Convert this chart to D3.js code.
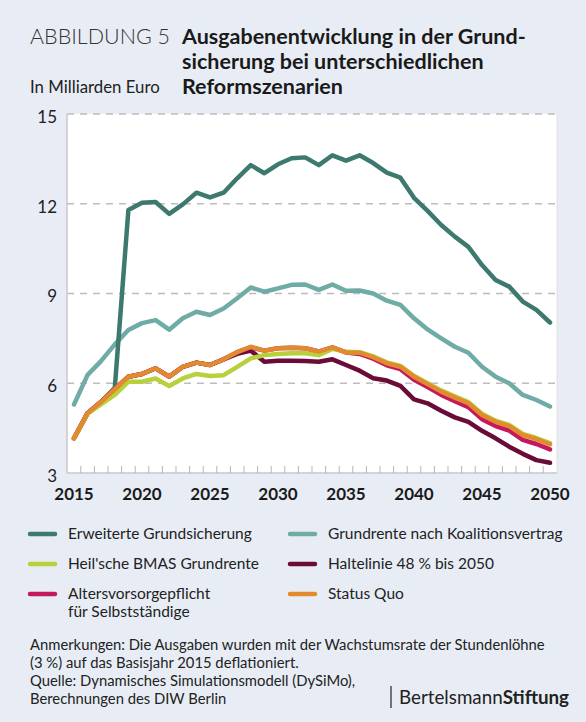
<!DOCTYPE html>
<html>
<head>
<meta charset="utf-8">
<script src="https://cdn.jsdelivr.net/npm/d3@7"></script>
<style>
  html, body { margin: 0; padding: 0; background: #e8edf5; }
  svg { display: block; font-family: Lato, "Open Sans", sans-serif; }
</style>
</head>
<body>
<svg id="chart" width="586" height="722"></svg>
<script>
// Ausgabenentwicklung Grundsicherung, Mrd. Euro, 2015–2050
var years = d3.range(2015, 2051);
var yTicks = [3, 6, 9, 12, 15];
var xTickLabels = [2015, 2020, 2025, 2030, 2035, 2040, 2045, 2050];

var erweitert = [4.16, 5.0, 5.38, 5.85, 11.79, 12.03, 12.06, 11.66, 11.98, 12.37, 12.21, 12.37, 12.85, 13.29, 13.02, 13.32, 13.52, 13.55, 13.29, 13.62,
  13.44, 13.62, 13.36, 13.04, 12.87, 12.2, 11.76, 11.29, 10.9, 10.56, 9.95, 9.45, 9.23, 8.73, 8.45, 8.03];
var koalition = [5.29, 6.28, 6.75, 7.3, 7.78, 8.01, 8.11, 7.79, 8.17, 8.39, 8.28, 8.5, 8.84, 9.2, 9.06, 9.17, 9.29, 9.3, 9.12, 9.3,
  9.09, 9.1, 9.0, 8.76, 8.62, 8.17, 7.8, 7.5, 7.22, 7.02, 6.55, 6.22, 6.0, 5.61, 5.44, 5.22];
var heil = [4.16, 4.98, 5.3, 5.61, 6.05, 6.05, 6.16, 5.91, 6.16, 6.31, 6.24, 6.27, 6.55, 6.83, 6.94, 6.98, 7.0, 7.0, 6.94, 7.15,
  7.05, 7.04, 6.9, 6.7, 6.58, 6.25, 6.0, 5.76, 5.56, 5.37, 4.98, 4.75, 4.61, 4.31, 4.17, 4.0];
var haltelinie = [4.16, 5.0, 5.38, 5.8, 6.22, 6.31, 6.5, 6.22, 6.55, 6.69, 6.61, 6.8, 6.98, 7.09, 6.72, 6.75, 6.75, 6.74, 6.72, 6.8,
  6.61, 6.42, 6.17, 6.09, 5.91, 5.46, 5.33, 5.08, 4.86, 4.71, 4.41, 4.16, 3.88, 3.64, 3.43, 3.34];
var alters = [4.16, 5.0, 5.38, 5.8, 6.22, 6.31, 6.5, 6.22, 6.55, 6.69, 6.61, 6.8, 7.04, 7.2, 7.09, 7.17, 7.19, 7.17, 7.06, 7.2,
  7.03, 6.98, 6.82, 6.6, 6.47, 6.12, 5.87, 5.61, 5.4, 5.2, 4.8, 4.57, 4.42, 4.11, 3.97, 3.79];
var statusQuo = [4.16, 5.0, 5.38, 5.8, 6.22, 6.31, 6.5, 6.22, 6.55, 6.69, 6.61, 6.8, 7.04, 7.22, 7.09, 7.17, 7.19, 7.17, 7.06, 7.2,
  7.03, 7.02, 6.87, 6.67, 6.55, 6.22, 5.97, 5.72, 5.52, 5.33, 4.94, 4.71, 4.57, 4.27, 4.13, 3.96];

// drawing order = bottom to top
var series = [
  { name: "Grundrente nach Koalitionsvertrag", values: koalition, color: "#6eaca5" },
  { name: "Erweiterte Grundsicherung", values: erweitert, color: "#3e796f" },
  { name: "Haltelinie 48 % bis 2050", values: haltelinie, color: "#6a0c37" },
  { name: "Altersvorsorgepflicht", values: alters, color: "#c4195a" },
  { name: "Heil'sche BMAS Grundrente", values: heil, color: "#b9d03d" },
  { name: "Status Quo", values: statusQuo, color: "#e28a30" }
];

var legendItems = [
  { lines: ["Erweiterte Grundsicherung"], color: "#3e796f", col: 0, row: 0 },
  { lines: ["Grundrente nach Koalitionsvertrag"], color: "#6eaca5", col: 1, row: 0 },
  { lines: ["Heil'sche BMAS Grundrente"], color: "#b9d03d", col: 0, row: 1 },
  { lines: ["Haltelinie 48 % bis 2050"], color: "#6a0c37", col: 1, row: 1 },
  { lines: ["Altersvorsorgepflicht", "für Selbstständige"], color: "#c4195a", col: 0, row: 2 },
  { lines: ["Status Quo"], color: "#e28a30", col: 1, row: 2 }
];

var svg = d3.select("#chart");
var plot = { left: 67, right: 557, top: 114, bottom: 473 };

var x = d3.scaleLinear().domain([2015, 2050]).range([74, 550]);
var y = d3.scaleLinear().domain([3, 15]).range([plot.bottom, plot.top]);

// title block
var head = svg.append("g").attr("fill", "#1a1a1a");
head.append("text").attr("x", 30).attr("y", 44).attr("font-size", 21.5).attr("font-weight", 300)
  .attr("fill", "#333").text("ABBILDUNG 5");
["Ausgabenentwicklung in der Grund-", "sicherung bei unterschiedlichen", "Reformszenarien"].forEach(function (t, i) {
  head.append("text").attr("x", 182).attr("y", 44 + i * 25).attr("font-size", 21.5).attr("font-weight", 700).text(t);
});
head.append("text").attr("x", 30).attr("y", 93).attr("font-size", 16.8).attr("fill", "#222").text("In Milliarden Euro");

// plot background
svg.append("rect").attr("x", plot.left).attr("y", plot.top)
  .attr("width", plot.right - plot.left).attr("height", plot.bottom - plot.top).attr("fill", "#fff");

// gridlines
svg.append("g").selectAll("line").data(yTicks.filter(function (v) { return v > 3; })).join("line")
  .attr("x1", plot.left).attr("x2", plot.right)
  .attr("y1", function (d) { return y(d); }).attr("y2", function (d) { return y(d); })
  .attr("stroke", "#bdbdbd").attr("stroke-width", 1.3).attr("stroke-dasharray", "7,6");

// axes frame
svg.append("line").attr("x1", plot.left).attr("x2", plot.left).attr("y1", plot.top).attr("y2", plot.bottom)
  .attr("stroke", "#c9c9c9").attr("stroke-width", 1.5);
svg.append("line").attr("x1", plot.right).attr("x2", plot.right).attr("y1", plot.top).attr("y2", plot.bottom)
  .attr("stroke", "#e2e2e2").attr("stroke-width", 1);
svg.append("line").attr("x1", plot.left).attr("x2", plot.right).attr("y1", plot.bottom).attr("y2", plot.bottom)
  .attr("stroke", "#c9c9c9").attr("stroke-width", 1.5);

// small year ticks between the years
svg.append("g").selectAll("line").data(years.slice(0, -1)).join("line")
  .attr("x1", function (d) { return x(d + 0.5); }).attr("x2", function (d) { return x(d + 0.5); })
  .attr("y1", plot.bottom).attr("y2", plot.bottom - 7)
  .attr("stroke", "#b5b5b5").attr("stroke-width", 1);

// y labels
svg.append("g").selectAll("text").data(yTicks).join("text")
  .attr("x", 57).attr("y", function (d) { return y(d) + 3; }).attr("dy", "0.35em")
  .attr("text-anchor", "end").attr("font-size", 17).attr("fill", "#222")
  .text(function (d) { return d; });

// x labels
svg.append("g").selectAll("text").data(xTickLabels).join("text")
  .attr("x", function (d) { return x(d); }).attr("y", 500)
  .attr("text-anchor", "middle").attr("font-size", 17).attr("font-weight", 700).attr("fill", "#1a1a1a")
  .text(function (d) { return d; });

// lines
var line = d3.line().x(function (d, i) { return x(years[i]); }).y(function (d) { return y(d); });
svg.append("g").selectAll("path").data(series).join("path")
  .attr("d", function (s) { return line(s.values); })
  .attr("fill", "none").attr("stroke", function (s) { return s.color; })
  .attr("stroke-width", 4.5).attr("stroke-linejoin", "round").attr("stroke-linecap", "round");

// legend
var lg = svg.append("g");
legendItems.forEach(function (it) {
  var lx = it.col === 0 ? 30 : 290, ly = 534 + it.row * 30;
  lg.append("line").attr("x1", lx).attr("x2", lx + 25).attr("y1", ly).attr("y2", ly)
    .attr("stroke", it.color).attr("stroke-width", 4.5).attr("stroke-linecap", "round");
  it.lines.forEach(function (t, j) {
    lg.append("text").attr("x", lx + 38).attr("y", ly + 5 + j * 18).attr("font-size", 15.5).attr("fill", "#222").text(t);
  });
});

// notes
var notes = ["Anmerkungen: Die Ausgaben wurden mit der Wachstumsrate der Stundenlöhne",
  "(3 %) auf das Basisjahr 2015 deflationiert.",
  "Quelle: Dynamisches Simulationsmodell (DySiMo),",
  "Berechnungen des DIW Berlin"];
notes.forEach(function (t, i) {
  svg.append("text").attr("x", 30).attr("y", 650 + i * 18).attr("font-size", 14.8).attr("fill", "#222").text(t);
});
svg.append("line").attr("x1", 391).attr("x2", 391).attr("y1", 686).attr("y2", 708).attr("stroke", "#222").attr("stroke-width", 1.2);
var brand = svg.append("text").attr("x", 399).attr("y", 704).attr("font-size", 18.8).attr("fill", "#222");
brand.append("tspan").text("Bertelsmann");
brand.append("tspan").attr("font-weight", 700).text("Stiftung");
</script>
</body>
</html>
